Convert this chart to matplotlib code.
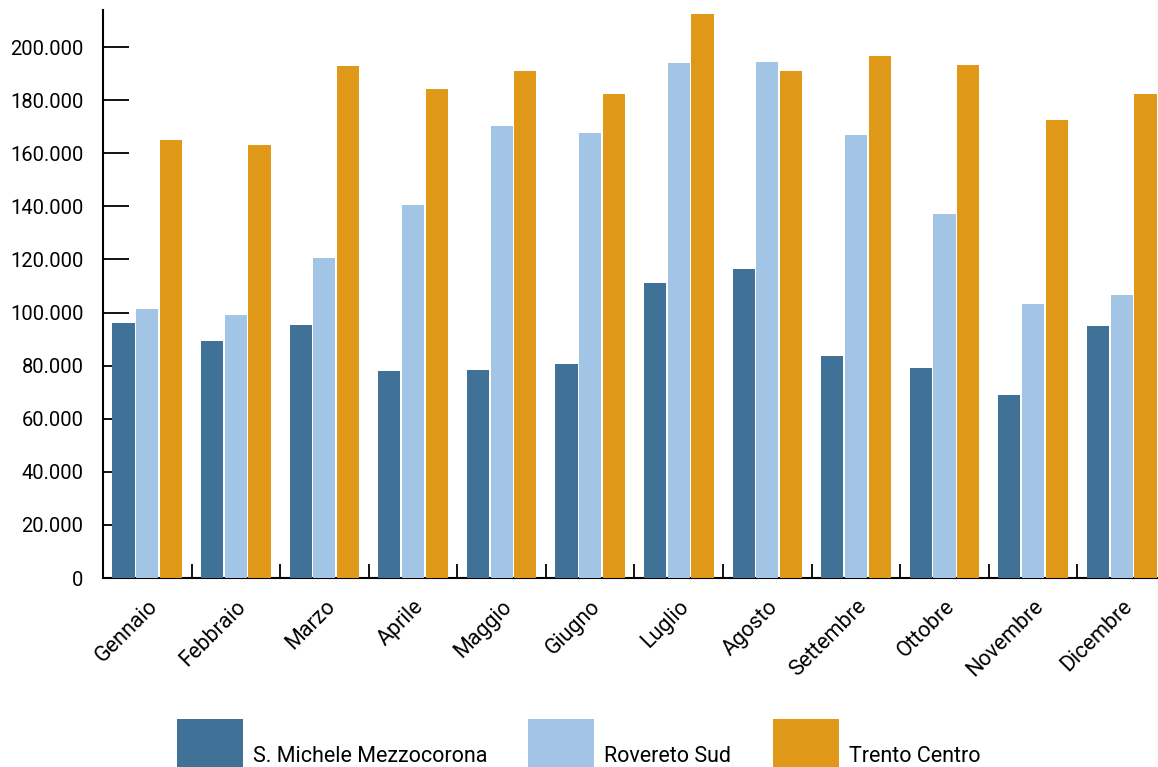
import numpy as np
import matplotlib.pyplot as plt
from matplotlib.patches import Rectangle
from matplotlib.ticker import FuncFormatter

plt.rcParams['font.family'] = ['Roboto', 'DejaVu Sans']

# Passaggi mensili per stazione
mesi = ['Gennaio', 'Febbraio', 'Marzo', 'Aprile', 'Maggio', 'Giugno',
        'Luglio', 'Agosto', 'Settembre', 'Ottobre', 'Novembre', 'Dicembre']
stazioni = ['S. Michele Mezzocorona', 'Rovereto Sud', 'Trento Centro']
s_michele = [96000, 89300, 95300, 78000, 78300, 80600,
             111100, 116400, 83600, 79100, 68900, 94900]
rovereto = [101300, 99100, 120500, 140500, 170200, 167600,
            194000, 194400, 166900, 137100, 103200, 106600]
trento = [165000, 163100, 192800, 184200, 191000, 182300,
          212400, 191000, 196600, 193200, 172500, 182300]
colori = ['#3F7296', '#A2C4E5', '#E09818']

fig = plt.figure(figsize=(11.58, 7.67), dpi=100)
ax = fig.add_axes([0.0889, 0.2464, 0.918, 0.7406])

x = np.arange(len(mesi))
w = 0.25
off = 0.268
for serie, dx, col in zip([s_michele, rovereto, trento], [-off, 0, off], colori):
    ax.bar(x + dx, serie, width=w, color=col, zorder=3)

ax.set_xlim(-0.5, len(mesi) - 0.5)
ax.set_ylim(0, 214000)
ax.set_yticks(np.arange(0, 200001, 20000))
ax.yaxis.set_major_formatter(FuncFormatter(lambda v, p: f'{v:,.0f}'.replace(',', '.')))
ax.tick_params(axis='y', direction='in', length=19, width=1.3, pad=14,
               labelsize=14.5, colors='black')

# etichette dei mesi senza tacche, separatori tra i gruppi
ax.set_xticks(x)
ax.set_xticklabels(mesi, rotation=45, ha='right', rotation_mode='anchor')
ax.tick_params(axis='x', length=0, pad=13, labelsize=15.5)
ax.set_xticks(x[:-1] + 0.5, minor=True)
ax.tick_params(axis='x', which='minor', direction='in', length=10, width=1.3)

for s in ['top', 'right']:
    ax.spines[s].set_visible(False)
ax.spines['left'].set_linewidth(1.5)
ax.spines['bottom'].set_linewidth(1.5)
ax.spines['bottom'].set_zorder(2)

# legenda in basso
leg_x = [0.1528, 0.4560, 0.6675]
for lx, nome, col in zip(leg_x, stazioni, colori):
    fig.patches.append(Rectangle((lx, -0.01), 0.057, 0.073, transform=fig.transFigure,
                                 facecolor=col, edgecolor='none'))
    fig.text(lx + 0.0655, 0.006, nome, fontsize=15.5, va='baseline', ha='left')

fig.savefig('out.png', dpi=100)
